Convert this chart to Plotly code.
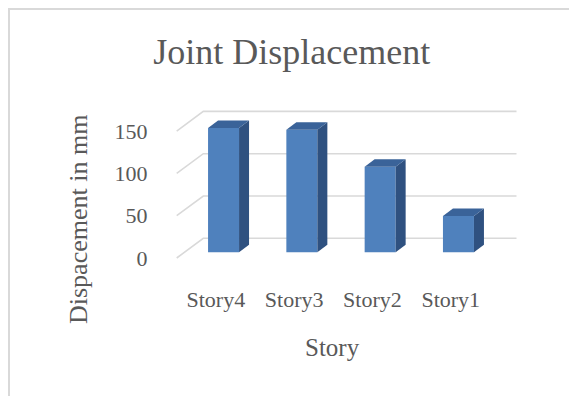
import plotly.graph_objects as go

# Data
stories = ["Story4", "Story3", "Story2", "Story1"]
displacement_mm = [147, 145, 101, 43]
y_ticks = [0, 50, 100, 150]

# Canvas / plot-area geometry (pixels)
W, H = 569, 396
L, R, T, B = 170, 39, 100, 121
PLOT_W, PLOT_H = W - L - R, H - T - B

PX_CAT = 78.3          # pixels per category step
X0_PX = 184.4          # pixel of category -0.5 on the bar front plane
PX_VAL = 0.846         # pixels per mm
Y0_PX = 252.3          # pixel of value 0 on the bar front plane

x_range = [-0.5 - (X0_PX - L) / PX_CAT, -0.5 + (W - R - X0_PX) / PX_CAT]
y_range = [-(H - B - Y0_PX) / PX_VAL, (Y0_PX - T) / PX_VAL]

# Depth offsets (pixels right, pixels up) converted to data units
def off(dx_px, dy_px):
    return dx_px / PX_CAT, dy_px / PX_VAL

FRONT = off(-7.7, -5.7)     # front edge of the floor/wall
BACK = off(18.9, 14.0)      # back wall
DEPTH = off(10.0, 7.5)      # bar depth
HALF_W = 15.5 / PX_CAT

FRONT_COL = "#4f81bd"
SIDE_COL = "#2f5180"
TOP_COL = "#3a6399"
GRID_COL = "#d9d9d9"
TEXT_COL = "#595959"
FONT = "Liberation Serif, Times New Roman, serif"

xs = list(range(len(stories)))

fig = go.Figure()

# Front faces
fig.add_trace(go.Bar(
    x=xs, y=displacement_mm, base=0, width=2 * HALF_W,
    marker=dict(color=FRONT_COL, line=dict(width=0)),
    showlegend=False, hoverinfo="skip",
))

# Side and top faces
for x, v in zip(xs, displacement_mm):
    xl, xr = x - HALF_W, x + HALF_W
    dx, dy = DEPTH
    fig.add_trace(go.Scatter(
        x=[xr, xr + dx, xr + dx, xr, xr], y=[0, dy, v + dy, v, 0],
        fill="toself", fillcolor=SIDE_COL, mode="lines",
        line=dict(width=0, color=SIDE_COL), showlegend=False, hoverinfo="skip",
    ))
    fig.add_trace(go.Scatter(
        x=[xl, xr, xr + dx, xl + dx, xl], y=[v, v, v + dy, v + dy, v],
        fill="toself", fillcolor=TOP_COL, mode="lines",
        line=dict(width=0, color=TOP_COL), showlegend=False, hoverinfo="skip",
    ))

# Wall gridlines: diagonal on the side wall, then along the back wall
shapes = []
x_left, x_right = -0.5, len(stories) - 0.5
for t in y_ticks:
    path = (f"M {x_left + FRONT[0]},{t + FRONT[1]} "
            f"L {x_left + BACK[0]},{t + BACK[1]} "
            f"L {x_right + BACK[0]},{t + BACK[1]}")
    shapes.append(dict(type="path", xref="x", yref="y", path=path,
                       line=dict(color=GRID_COL, width=1.6), layer="below"))

# Chart-area border
def px_x(p):
    return (p - L) / PLOT_W

def px_y(p):
    return (H - B - p) / PLOT_H

shapes.append(dict(type="rect", xref="paper", yref="paper",
                   x0=px_x(9), x1=px_x(W + 20), y0=px_y(H + 20), y1=px_y(9),
                   line=dict(color=GRID_COL, width=2), layer="below"))

fig.update_layout(
    width=W, height=H,
    margin=dict(l=L, r=R, t=T, b=B),
    paper_bgcolor="white", plot_bgcolor="white",
    shapes=shapes,
    font=dict(family=FONT, color=TEXT_COL),
    title=dict(text="Joint Displacement", x=291.7 / W, xanchor="center",
               y=1 - 51 / H, yanchor="middle",
               font=dict(size=36, family=FONT, color=TEXT_COL)),
    xaxis=dict(range=x_range, showgrid=False, zeroline=False, showline=False,
               tickmode="array", tickvals=[x + FRONT[0] for x in xs],
               ticktext=stories, tickfont=dict(size=22),
               ticks="outside", ticklen=5, tickcolor="rgba(0,0,0,0)",
               fixedrange=True),
    yaxis=dict(range=y_range, showgrid=False, zeroline=False, showline=False,
               tickmode="array", tickvals=[t + FRONT[1] for t in y_ticks],
               ticktext=[str(t) for t in y_ticks], tickfont=dict(size=22),
               ticks="outside", ticklen=17, tickcolor="rgba(0,0,0,0)",
               fixedrange=True),
    annotations=[
        dict(text="Story", xref="paper", yref="paper",
             x=px_x(332.5), y=px_y(347), xanchor="center", yanchor="middle",
             showarrow=False, font=dict(size=25, color=TEXT_COL)),
        dict(text="Dispacement in mm", xref="paper", yref="paper",
             x=px_x(78), y=px_y(220), xanchor="center", yanchor="middle",
             textangle=-90, showarrow=False,
             font=dict(size=26, color=TEXT_COL)),
    ],
)

fig.write_html("out.html")
